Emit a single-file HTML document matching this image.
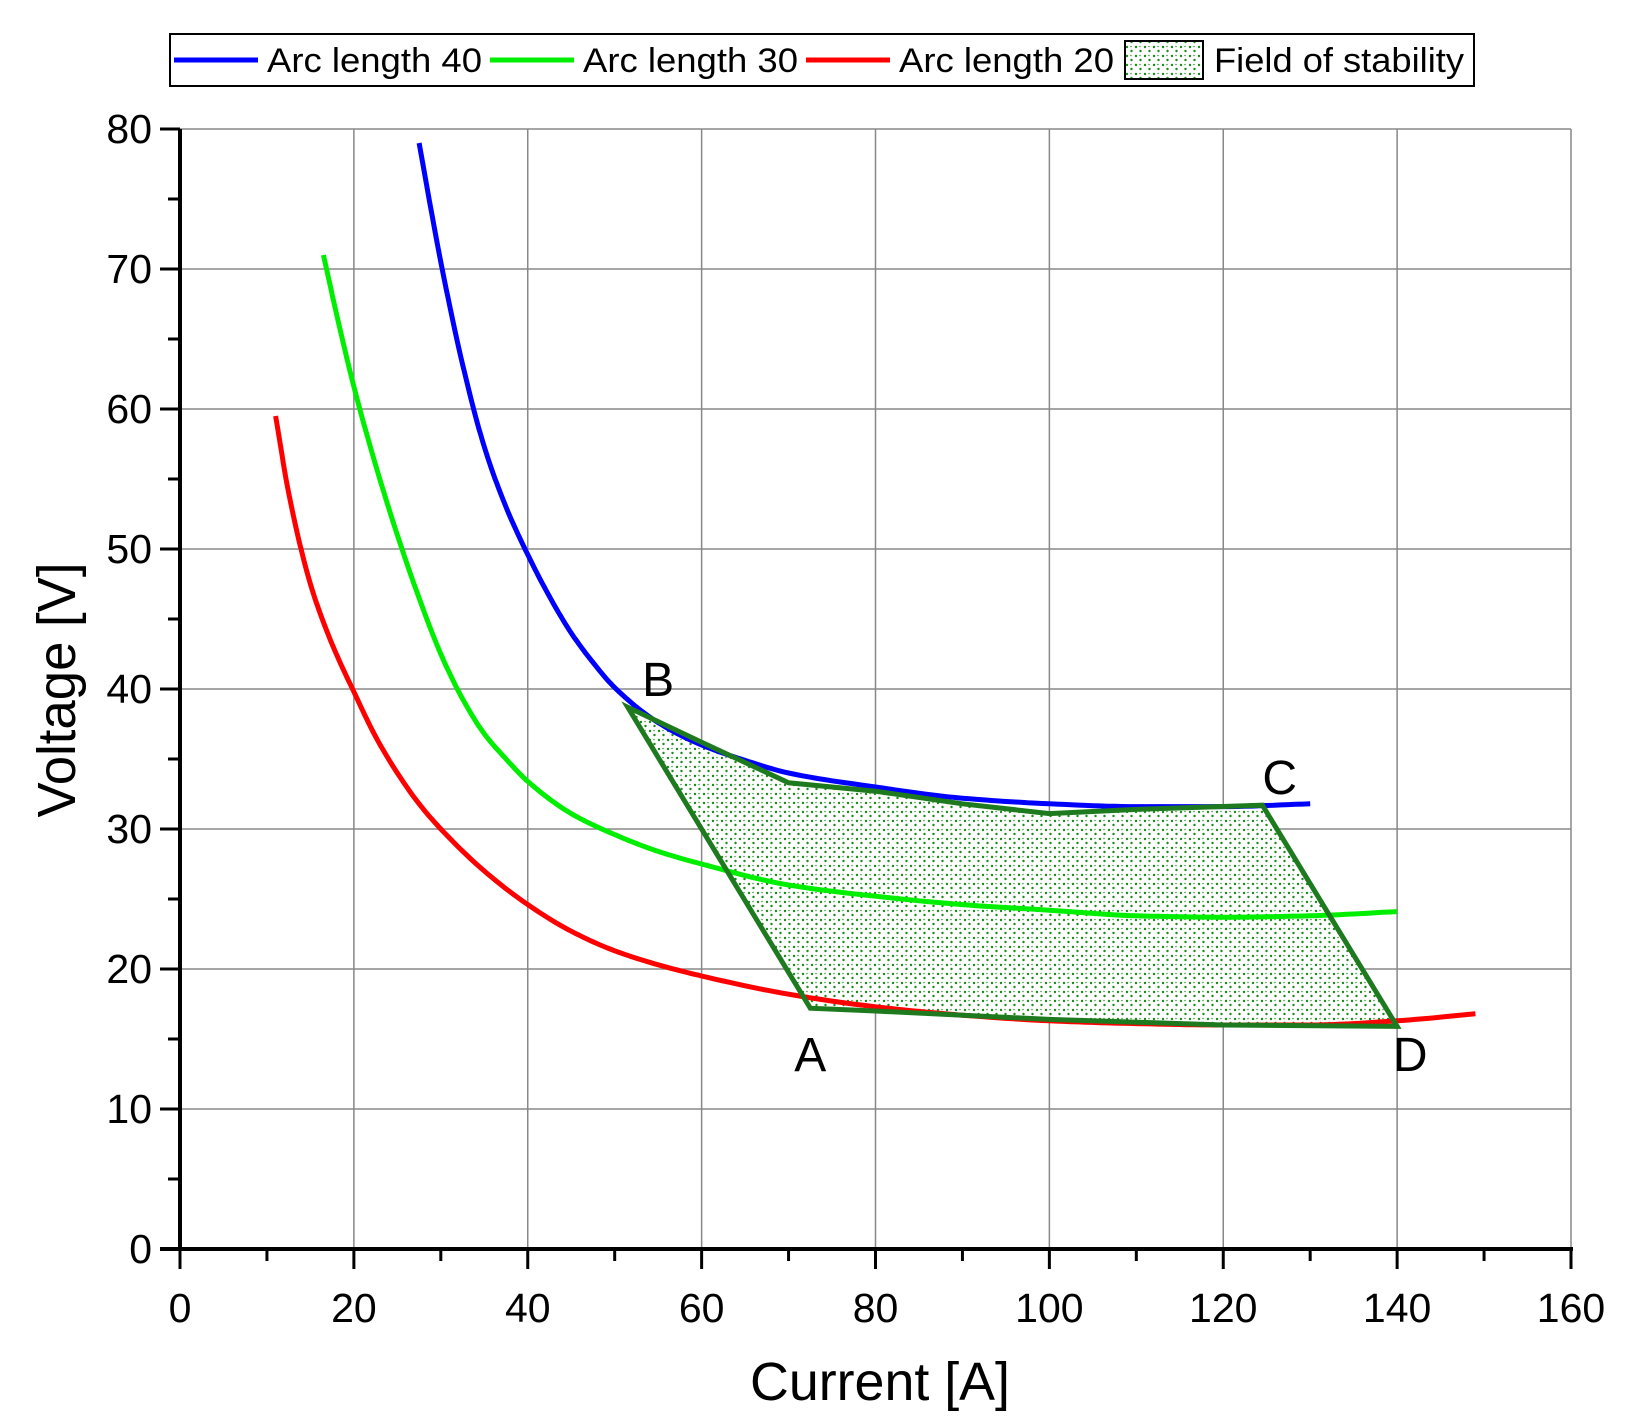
<!DOCTYPE html>
<html><head><meta charset="utf-8"><style>
html,body{margin:0;padding:0;background:#fff;}
svg{display:block;font-family:"Liberation Sans",Arial,sans-serif;}
</style></head><body>
<svg id="chart" width="1626" height="1426" viewBox="0 0 1626 1426" xmlns="http://www.w3.org/2000/svg">
<defs>
<pattern id="dots" width="9" height="9" patternUnits="userSpaceOnUse">
<rect width="9" height="9" fill="#fff"/>
<circle cx="2" cy="2" r="1.2" fill="#1a8a1a"/>
<circle cx="6.5" cy="6" r="1.2" fill="#1a8a1a"/>
<circle cx="6" cy="1.5" r="0.8" fill="#3aa03a"/>
</pattern>
</defs>
<g id="grid"></g>
<g id="series"></g>
<g id="axes"></g>
<text x="880" y="1400" font-size="54" text-anchor="middle" textLength="260" lengthAdjust="spacingAndGlyphs">Current [A]</text>
<text transform="translate(75,690) rotate(-90)" font-size="54" text-anchor="middle" textLength="255" lengthAdjust="spacingAndGlyphs">Voltage [V]</text>
<g>
<rect x="170" y="34" width="1304" height="52" fill="#fff" stroke="#000" stroke-width="2"/>
<g><line x1="174" y1="60" x2="258" y2="60" stroke="#0000ff" stroke-width="5"/><text x="267" y="72" font-size="34" textLength="215" lengthAdjust="spacingAndGlyphs">Arc length 40</text></g>
<g><line x1="490" y1="60" x2="574" y2="60" stroke="#00ee00" stroke-width="5"/><text x="583" y="72" font-size="34" textLength="215" lengthAdjust="spacingAndGlyphs">Arc length 30</text></g>
<g><line x1="806" y1="60" x2="890" y2="60" stroke="#ff0000" stroke-width="5"/><text x="899" y="72" font-size="34" textLength="215" lengthAdjust="spacingAndGlyphs">Arc length 20</text></g>
<g><rect x="1125" y="41" width="78" height="38" fill="url(#dots)" stroke="#000" stroke-width="2"/><text x="1214" y="72" font-size="34" textLength="250" lengthAdjust="spacingAndGlyphs">Field of stability</text></g>
</g>
</svg>
<script>
const xTicks=[0,20,40,60,80,100,120,140,160];
const yTicks=[0,10,20,30,40,50,60,70,80];
const arc40X=[27.5,30,32.5,35,37.5,40,42.5,45,47.5,50,55,60,65,70,80,90,100,110,120,130];
const arc40Y=[79,70.5,63.2,57.3,53,49.6,46.6,44,41.9,40.1,37.6,36,34.9,34,33,32.2,31.8,31.6,31.6,31.8];
const arc30X=[16.5,18,20,22.5,25,27.5,30,32.5,35,37.5,40,45,50,55,60,70,80,90,100,110,120,130,140];
const arc30Y=[71,66.8,61.6,56,51,46.5,42.5,39.3,36.8,35,33.4,31.1,29.6,28.4,27.5,26,25.2,24.6,24.2,23.8,23.7,23.8,24.1];
const arc20X=[11,12.5,15,17.5,20,22.5,25,27.5,30,35,40,45,50,55,60,70,80,90,100,110,120,130,140,149];
const arc20Y=[59.5,54,47.5,43.2,39.8,36.6,34,31.8,30,27,24.6,22.7,21.3,20.3,19.5,18.2,17.3,16.7,16.3,16.1,16.0,16.0,16.3,16.8];
const fieldX=[51.5,60,70,80,90,100,110,124.5,140,120,100,80,72.5];
const fieldY=[38.7,36.2,33.3,32.7,31.8,31.1,31.4,31.7,15.9,16.0,16.4,17.0,17.2];
const pointLabels=['B','C','D','A'];
const pointLabelX=[55,126.5,141.5,72.5];
const pointLabelY=[39.5,32.5,12.7,12.7];

const X0=180,X1=1571,Y0=1249,Y1=129;
const sx=v=>X0+(v-0)/160*(X1-X0);
const sy=v=>Y0-(v-0)/80*(Y0-Y1);
const NS='http://www.w3.org/2000/svg';
function mk(tag,attrs,parent){const e=document.createElementNS(NS,tag);for(const k in attrs)e.setAttribute(k,attrs[k]);parent.appendChild(e);return e;}
const grid=document.getElementById('grid'),axes=document.getElementById('axes'),series=document.getElementById('series');
xTicks.forEach(t=>{
 if(t>0){const l=mk('line',{x1:sx(t),x2:sx(t),y1:Y1,y2:Y0,stroke:'#888','stroke-width':1.5},grid);
 
 }
 const tk=mk('line',{x1:sx(t),x2:sx(t),y1:Y0,y2:Y0+20,stroke:'#000','stroke-width':3},axes);
 
 
 const tx=mk('text',{x:sx(t),y:Y0+73,'font-size':41,'text-anchor':'middle'},axes);tx.textContent=t;
 
 
});
for(let m=10;m<160;m+=20){const l=mk('line',{x1:sx(m),x2:sx(m),y1:Y0,y2:Y0+12,stroke:'#000','stroke-width':3},axes);
 
 }
yTicks.forEach(t=>{
 if(t>0){const l=mk('line',{x1:X0,x2:X1,y1:sy(t),y2:sy(t),stroke:'#888','stroke-width':1.5},grid);
 
 }
 const tk=mk('line',{x1:X0-20,x2:X0,y1:sy(t),y2:sy(t),stroke:'#000','stroke-width':3},axes);
 
 
 const tx=mk('text',{x:X0-28,y:sy(t)+14,'font-size':41,'text-anchor':'end'},axes);tx.textContent=t;
 
 
});
for(let m=5;m<80;m+=10){const l=mk('line',{x1:X0-12,x2:X0,y1:sy(m),y2:sy(m),stroke:'#000','stroke-width':3},axes);
 
 }
const ya=mk('line',{x1:X0,x2:X0,y1:Y1,y2:Y0+2,stroke:'#000','stroke-width':4},axes);


const xa=mk('line',{x1:X0-20,x2:X1+2,y1:Y0,y2:Y0,stroke:'#000','stroke-width':4},axes);



const fp=mk('polygon',{points:fieldX.map((x,i)=>sx(x)+','+sy(fieldY[i])).join(' '),fill:'url(#dots)',stroke:'none'},series);


function smooth(xs,ys){
 const n=xs.length,d=[],m=new Array(n);
 for(let i=0;i<n-1;i++)d.push((ys[i+1]-ys[i])/(xs[i+1]-xs[i]));
 m[0]=d[0];m[n-1]=d[n-2];
 for(let i=1;i<n-1;i++){
  if(d[i-1]*d[i]<=0)m[i]=0;
  else{const h0=xs[i]-xs[i-1],h1=xs[i+1]-xs[i],w1=2*h1+h0,w2=h1+2*h0;m[i]=(w1+w2)/(w1/d[i-1]+w2/d[i]);}
 }
 let p='M'+sx(xs[0]).toFixed(1)+','+sy(ys[0]).toFixed(1);
 for(let i=0;i<n-1;i++){
  const h=xs[i+1]-xs[i];
  for(let k=1;k<=12;k++){const t=k/12,t2=t*t,t3=t2*t;
   const y=(2*t3-3*t2+1)*ys[i]+(t3-2*t2+t)*h*m[i]+(-2*t3+3*t2)*ys[i+1]+(t3-t2)*h*m[i+1];
   p+=' L'+sx(xs[i]+t*h).toFixed(1)+','+sy(y).toFixed(1);}
 }
 return p;}
const l40=mk('path',{d:smooth(arc40X,arc40Y),fill:'none',stroke:'#0000ff','stroke-width':5,'stroke-linejoin':'round'},series);


const l30=mk('path',{d:smooth(arc30X,arc30Y),fill:'none',stroke:'#00ee00','stroke-width':5,'stroke-linejoin':'round'},series);


const l20=mk('path',{d:smooth(arc20X,arc20Y),fill:'none',stroke:'#ff0000','stroke-width':5,'stroke-linejoin':'round'},series);


const fo=mk('polygon',{points:fieldX.map((x,i)=>sx(x)+','+sy(fieldY[i])).join(' '),fill:'none',stroke:'#1e7a1e','stroke-width':5,'stroke-linejoin':'miter'},series);


pointLabels.forEach((p,i)=>{const t=mk('text',{x:sx(pointLabelX[i]),y:sy(pointLabelY[i]),'font-size':48,'text-anchor':'middle'},series);t.textContent=p;
 
 });
</script>
</body></html>
